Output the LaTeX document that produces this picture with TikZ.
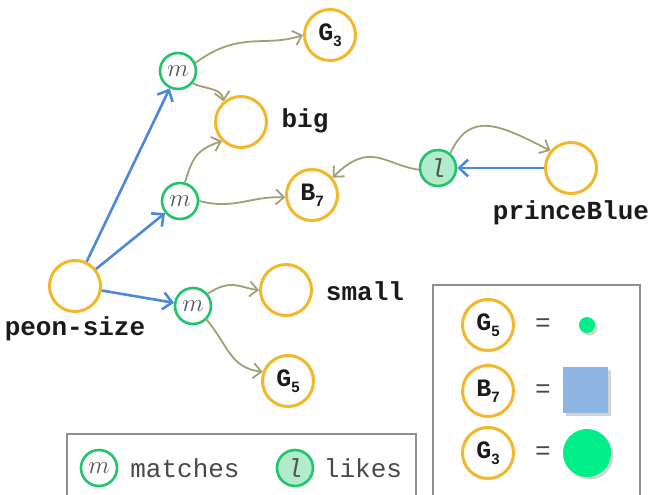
\documentclass[tikz,border=0pt]{standalone}
\usepackage{fontspec}
\newfontfamily\lmono{Liberation Mono}
\newfontfamily\lsans{Liberation Sans}
\usetikzlibrary{arrows.meta,shadows,patterns}
\definecolor{orng}{HTML}{F2B827}
\definecolor{grn}{HTML}{22C46A}
\definecolor{olv}{HTML}{A39F72}
\definecolor{blu}{HTML}{4D89D9}
\definecolor{likefill}{HTML}{B0EBC9}
\definecolor{brightgrn}{HTML}{00EE88}
\definecolor{sqblue}{HTML}{8DB4E2}
\definecolor{boxgray}{HTML}{909090}
\definecolor{ink}{HTML}{1A1A1A}
\newcommand{\sub}[1]{\raisebox{-0.45ex}{\fontsize{15}{15}\selectfont\lsans\bfseries #1}}
\newcommand{\gnode}[3]{%
  \node[ocirc] (#1) at (#2) {};
  \node[gtext] (#1t) at (#1) {#3};}
\tikzset{
  ocirc/.style={circle, draw=orng, line width=3pt, minimum size=51pt, inner sep=0pt},
  mcirc/.style={circle, draw=grn, line width=2.6pt, minimum size=36pt, inner sep=0pt,
    font=\fontsize{25}{25}\selectfont, text=ink!75},
  lcirc/.style={mcirc, preaction={fill=likefill}, pattern=dots, pattern color=white!55!likefill},
  lbltext/.style={font=\fontsize{26}{28}\selectfont\lmono\bfseries, text=ink, inner sep=0pt},
  gtext/.style={font=\fontsize{25}{26}\selectfont\lmono\bfseries, text=ink, inner sep=0pt},
  legtext/.style={font=\fontsize{26}{28}\selectfont\lmono, text=ink!80, inner sep=0pt},
  olvarrow/.style={draw=olv, line width=1.8pt, -{Straight Barb[length=8pt,width=15pt]}},
  bluarrow/.style={draw=blu, line width=2.6pt, -{Straight Barb[length=9pt,width=17pt]}},
  legbox/.style={draw=boxgray, line width=1.8pt},
  shd/.style={drop shadow={shadow xshift=2.5pt, shadow yshift=-2.5pt, opacity=0.35}},
}
\begin{document}
\begin{tikzpicture}[x=1pt, y=-1pt]
\useasboundingbox (0,0) rectangle (656,495);
\clip (0,0) rectangle (656,495);
% main graph nodes
\node[ocirc] (peon) at (75,286) {};
\node[lbltext] (peonl) at (75,329) {peon-size};
\node[mcirc] (m1) at (178,71) {$m$};
\node[mcirc] (m2) at (180,201) {$m$};
\node[mcirc] (m3) at (193,306) {$m$};
\node[ocirc] (big) at (241,122) {};
\node[lbltext] (bigl) at (305,121) {big};
\gnode{g3}{330,35}{G\sub{3}}
\gnode{b7}{312,195}{B\sub{7}}
\node[lcirc] (lk) at (438,168) {\lmono\itshape\fontsize{26}{26}\selectfont l};
\node[ocirc] (pb) at (571,168) {};
\node[lbltext] (pbl) at (571,213) {princeBlue};
\node[ocirc] (small) at (286,290) {};
\node[lbltext] (smalll) at (365,291) {small};
\gnode{g5}{288,381}{G\sub{5}}
% blue arrows
\draw[bluarrow] (peon) -- (m1);
\draw[bluarrow] (peon) -- (m2);
\draw[bluarrow] (peon) -- (m3);
\draw[bluarrow] (pb) -- (lk);
% olive arrows
\draw[olvarrow] (m1.25) .. controls (240,30) and (265,48) .. (g3.180);
\draw[olvarrow] (m1.-40) to[out=-25, in=100] (big.130);
\draw[olvarrow] (m2.75) .. controls (192,160) and (195,150) .. (big.225);
\draw[olvarrow] (m2.0) .. controls (235,210) and (250,196) .. (b7.185);
\draw[olvarrow] (lk.185) .. controls (385,165) and (370,140) .. (b7.40);
\draw[olvarrow] (lk.50) .. controls (470,110) and (500,125) .. (pb.140);
\draw[olvarrow] (m3.40) .. controls (232,278) and (240,288) .. (small.180);
\draw[olvarrow] (m3.-45) .. controls (228,345) and (230,368) .. (g5.160);
% legend bottom-left
\draw[legbox] (67,434) rectangle (416,520);
\node[mcirc] (lgm) at (99,468) {$m$};
\node[legtext] (lgmt) at (185,468) {matches};
\node[lcirc] (lgl) at (295,468) {\lmono\itshape\fontsize{26}{26}\selectfont l};
\node[legtext] (lglt) at (363,468) {likes};
% legend right
\draw[legbox] (433,285) rectangle (640,520);
\gnode{lg5}{488,325}{G\sub{5}}
\gnode{lb7}{488,391}{B\sub{7}}
\gnode{lg3}{488,453}{G\sub{3}}
\node[legtext] (eq1) at (543,325) {=};
\node[legtext] (eq2) at (543,391) {=};
\node[legtext] (eq3) at (543,453) {=};
\fill[brightgrn, shd] (587,325) circle (8);
\fill[sqblue, shd] (563,367) rectangle (608,413);
\fill[brightgrn, shd] (587,453) circle (24);
\end{tikzpicture}
\end{document}
